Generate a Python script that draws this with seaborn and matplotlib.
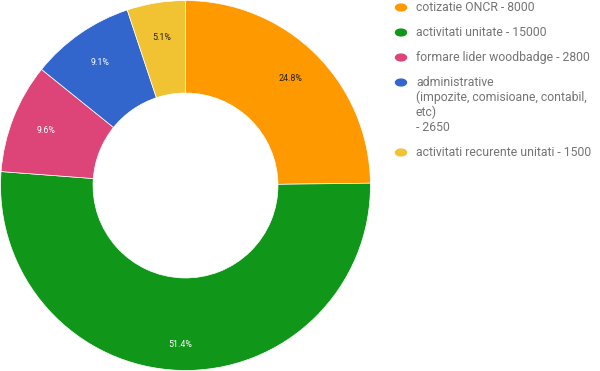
import matplotlib
matplotlib.use("Agg")
import matplotlib.pyplot as plt
import seaborn as sns

# slice data, clockwise from the top
categories = [
    "cotizatie ONCR - 8000",
    "activitati unitate - 15000",
    "formare lider woodbadge - 2800",
    "administrative\n(impozite, comisioane, contabil,\netc)\n- 2650",
    "activitati recurente unitati - 1500",
]
shares = [24.8, 51.4, 9.6, 9.1, 5.1]
slice_colors = ["#ff9900", "#109618", "#dd4477", "#3366cc", "#f1c232"]
label_colors = ["#222222", "#ffffff", "#ffffff", "#ffffff", "#222222"]

sns.set_theme(style="white")
plt.rcParams["font.family"] = ["Roboto", "DejaVu Sans"]
palette = sns.color_palette(slice_colors)

fig = plt.figure(figsize=(6, 3.71), dpi=100)
ax = fig.add_axes([0.0, 0.0, 371 / 600, 1.0])

wedges, texts, autotexts = ax.pie(
    shares,
    colors=palette,
    startangle=90,
    counterclock=False,
    radius=1.0,
    autopct="%.1f%%",
    pctdistance=0.81,
    wedgeprops=dict(width=0.5, edgecolor="white", linewidth=0.5),
    textprops=dict(fontsize=6.4),
)
for t, c in zip(autotexts, label_colors):
    t.set_color(c)
# the big slice's label sits a little further out in the reference
x0, y0 = autotexts[1].get_position()
autotexts[1].set_position((x0 * 0.86 / 0.81, y0 * 0.86 / 0.81))

ax.set_xlim(-1.003, 1.003)
ax.set_ylim(-1.003, 1.003)
ax.set_aspect("equal")
ax.axis("off")

# legend drawn by hand, to keep the marker on the first text line
H = 371
y = 7.5
for name, col in zip(categories, palette):
    lines = name.split("\n")
    fig.patches.append(plt.Circle((401 / 600, 1 - y / H), 5.5 / 600, color=col,
                                  transform=fig.transFigure, figure=fig))
    for i, line in enumerate(lines):
        fig.text(416 / 600, 1 - (y + 15 * i) / H, line, fontsize=8.8,
                 color="#757575", va="center", ha="left")
    y = y + 15 * (len(lines) - 1) + 25

fig.savefig("out.png", dpi=100)
